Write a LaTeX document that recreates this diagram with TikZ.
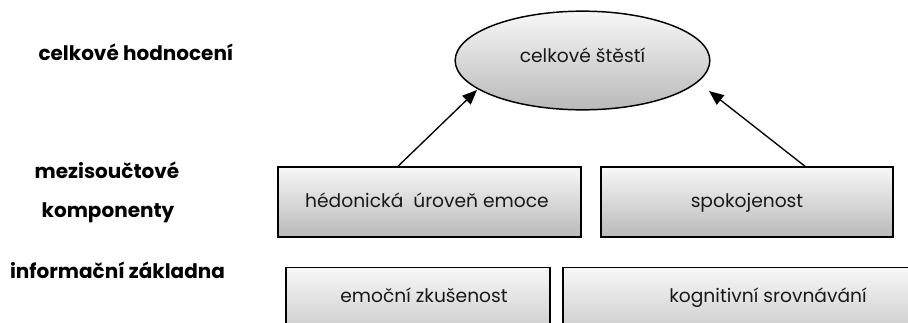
\documentclass[tikz,border=0pt]{standalone}
\usepackage{fontspec}
\setmainfont{Poppins}
\usetikzlibrary{shapes.geometric,arrows.meta}

\tikzset{
  shade/.style={top color=gray!6, bottom color=gray!55, draw=black, line width=1.1pt},
  card/.style={shade, rectangle, minimum height=52.5pt, inner sep=0pt},
  bubble/.style={shade, ellipse, minimum width=191pt, minimum height=74pt, inner sep=0pt},
  txt/.style={font=\fontsize{14}{16}\selectfont, inner sep=0pt, anchor=base, text=black!90},
  level/.style={font=\fontsize{15}{17}\selectfont\bfseries, inner sep=0pt, anchor=base},
  arr/.style={-{Triangle[length=11pt,width=9pt]}, line width=1pt}
}

\begin{document}
\begin{tikzpicture}[x=0.75pt,y=-0.75pt]
  \useasboundingbox (0,0) rectangle (908,322);
  \clip (0,0) rectangle (908,322);

  % level labels on the left
  \node[level] (l1) at (136,60) {celkové hodnocení};
  \node[level] (l2) at (107,178) {mezisoučtové};
  \node[level] (l3) at (108,217) {komponenty};
  \node[level] (l4) at (117.5,278) {informační základna};

  % overall happiness
  \node[bubble] (ell) at (582.5,60.5) {};
  \node[txt] (ellt) at (582.5,62) {celkové štěstí};

  % intermediate components
  \node[card, minimum width=227pt] (hed) at (429.5,202) {};
  \node[txt] (hedt) at (427,207) {hédonická\ \ úroveň emoce};
  \node[card, minimum width=219pt] (spok) at (747,202) {};
  \node[txt] (spokt) at (747,207) {spokojenost};

  % information base (cut by the lower edge)
  \node[card, minimum width=198pt, minimum height=70pt] (emo) at (418,314) {};
  \node[txt] (emot) at (424,302) {emoční zkušenost};
  \node[card, minimum width=270pt, minimum height=70pt] (kog) at (743,314) {};
  \node[txt] (kogt) at (768,302) {kognitivní srovnávání};

  % connectors
  \draw[arr] ([xshift=-31.5*0.75pt]hed.north) -- ([shift={(-105.5,29.5)}]ell.center);
  \draw[arr] ([xshift=58*0.75pt]spok.north) -- ([shift={(126.5,30.5)}]ell.center);
\end{tikzpicture}
\end{document}
